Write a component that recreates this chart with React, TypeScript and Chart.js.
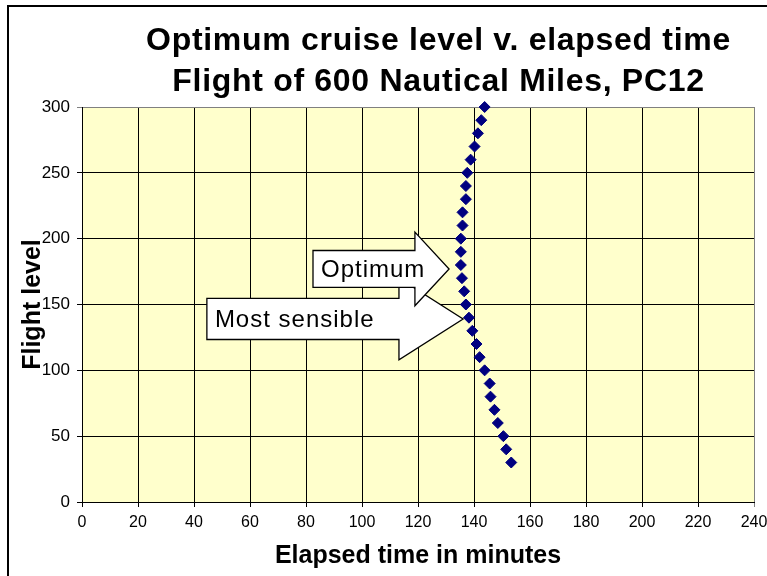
import React, { useEffect, useRef } from 'react';
import { Chart, registerables } from 'chart.js';

Chart.register(...registerables);

// ---- data ----
const flightLevels = [30, 40, 50, 60, 70, 80, 90, 100, 110, 120, 130, 140, 150, 160, 170, 180, 190, 200, 210, 220, 230, 240, 250, 260, 270, 280, 290, 300];
const elapsedMinutes = [153.3, 151.5, 150.5, 148.5, 147.3, 145.9, 145.6, 143.8, 142.0, 140.9, 139.4, 138.2, 137.1, 136.5, 135.7, 135.3, 135.3, 135.3, 135.9, 135.9, 137.1, 137.1, 137.6, 138.8, 140.2, 141.4, 142.6, 143.8];

const xMin = 0;
const xMax = 240;
const xStep = 20;
const yMin = 0;
const yMax = 300;
const yStep = 50;

const titleLines = ['Optimum cruise level v. elapsed time', 'Flight of 600 Nautical Miles, PC12'];
const xAxisTitle = 'Elapsed time in minutes';
const yAxisTitle = 'Flight level';

// block-arrow annotations, in data units (drawn in order: later on top)
const arrowLabels = ['Most sensible', 'Optimum'];
const arrowLevels = [139, 177];
const arrowTailX = [44.6, 82.5];
const arrowHeadX = [113.2, 118.9];
const arrowTipX = [136.1, 131.1];
const arrowBodyHalf = [15.6, 14.0];
const arrowHeadHalf = [31.0, 28.0];

const FONT = "'Liberation Sans', Arial, Helvetica, sans-serif";

const decorPlugin = {
  id: 'decor',
  beforeDraw(chart: any) {
    const { ctx, chartArea } = chart;
    ctx.save();
    ctx.fillStyle = '#ffffff';
    ctx.fillRect(0, 0, chart.width, chart.height);
    ctx.strokeStyle = '#000000';
    ctx.lineWidth = 2;
    ctx.strokeRect(8, 6, 2000, 2000);
    ctx.fillStyle = '#FFFFCC';
    ctx.fillRect(chartArea.left, chartArea.top, chartArea.right - chartArea.left, chartArea.bottom - chartArea.top);
    ctx.restore();
  },
  afterDraw(chart: any) {
    const { ctx } = chart;
    const xs = chart.scales.x;
    const ys = chart.scales.y;
    ctx.save();
    // title
    ctx.fillStyle = '#000000';
    ctx.font = `bold 32px ${FONT}`;
    (ctx as any).letterSpacing = '0.7px';
    ctx.textAlign = 'center';
    ctx.textBaseline = 'alphabetic';
    ctx.fillText(titleLines[0], 438.5, 50);
    ctx.fillText(titleLines[1], 438.5, 91);
    // arrows
    ctx.font = `24px ${FONT}`;
    (ctx as any).letterSpacing = '1px';
    ctx.textAlign = 'left';
    for (let i = 0; i < arrowLabels.length; i++) {
      const cy = ys.getPixelForValue(arrowLevels[i]);
      const tail = xs.getPixelForValue(arrowTailX[i]);
      const head = xs.getPixelForValue(arrowHeadX[i]);
      const tip = xs.getPixelForValue(arrowTipX[i]);
      const bt = ys.getPixelForValue(arrowLevels[i] + arrowBodyHalf[i]);
      const bb = ys.getPixelForValue(arrowLevels[i] - arrowBodyHalf[i]);
      const ht = ys.getPixelForValue(arrowLevels[i] + arrowHeadHalf[i]);
      const hb = ys.getPixelForValue(arrowLevels[i] - arrowHeadHalf[i]);
      ctx.beginPath();
      ctx.moveTo(tail, bt);
      ctx.lineTo(head, bt);
      ctx.lineTo(head, ht);
      ctx.lineTo(tip, cy);
      ctx.lineTo(head, hb);
      ctx.lineTo(head, bb);
      ctx.lineTo(tail, bb);
      ctx.closePath();
      ctx.fillStyle = '#ffffff';
      ctx.fill();
      ctx.strokeStyle = '#000000';
      ctx.lineWidth = 1.3;
      ctx.lineJoin = 'miter';
      ctx.stroke();
      ctx.fillStyle = '#000000';
      ctx.fillText(arrowLabels[i], tail + 8, cy + 8);
    }
    ctx.restore();
  },
};

export default function App() {
  const ref = useRef<HTMLCanvasElement | null>(null);
  useEffect(() => {
    if (!ref.current) return;
    const chart = new Chart(ref.current, {
      type: 'scatter',
      data: {
        datasets: [
          {
            label: 'Flight level',
            data: elapsedMinutes.map((t, i) => ({ x: t, y: flightLevels[i] })),
            pointStyle: 'rectRot',
            pointRadius: 5.5,
            pointHoverRadius: 5.5,
            backgroundColor: '#000080',
            borderColor: '#000080',
            borderWidth: 1,
            showLine: false,
            clip: false,
          } as any,
        ],
      },
      options: {
        animation: false,
        responsive: false,
        devicePixelRatio: 1,
        events: [],
        layout: { padding: { left: 8, right: 0, top: 107, bottom: 0 } },
        plugins: {
          legend: { display: false },
          tooltip: { enabled: false },
          title: { display: false },
        },
        scales: {
          x: {
            type: 'linear',
            min: xMin,
            max: xMax,
            ticks: {
              stepSize: xStep,
              color: '#000000',
              font: { family: FONT, size: 16 },
              padding: 6,
              maxRotation: 0,
              autoSkip: false,
            },
            grid: {
              color: (c: any) => (c.tick && c.tick.value === xMax ? '#808080' : '#000000'),
              lineWidth: 1,
              tickLength: 5,
            },
            border: { color: '#000000', width: 1 },
            title: {
              display: true,
              text: xAxisTitle,
              color: '#000000',
              font: { family: FONT, size: 25, weight: 'bold' },
              padding: { top: 0, bottom: 5 },
            },
            afterFit: (s: any) => {
              s.height = 74;
              s.paddingLeft = 0;
              s.paddingRight = 13;
            },
          },
          y: {
            type: 'linear',
            min: yMin,
            max: yMax,
            ticks: {
              stepSize: yStep,
              color: '#000000',
              font: { family: FONT, size: 17 },
              padding: 7,
            },
            grid: {
              color: (c: any) => (c.tick && c.tick.value === yMax ? '#808080' : '#000000'),
              lineWidth: 1,
              tickLength: 5,
            },
            border: { color: '#000000', width: 1 },
            title: {
              display: true,
              text: yAxisTitle,
              color: '#000000',
              font: { family: FONT, size: 25, weight: 'bold' },
              padding: { top: 10, bottom: 0 },
            },
            afterFit: (s: any) => {
              s.width = 74;
              s.paddingTop = 0;
              s.paddingBottom = 0;
            },
          },
        },
      } as any,
      plugins: [decorPlugin],
    });
    return () => chart.destroy();
  }, []);
  return (
    <div style={{ position: 'fixed', left: 0, top: 0, width: 767, height: 576, overflow: 'hidden', background: '#fff' }}>
      <canvas ref={ref} width={767} height={576} style={{ width: 767, height: 576, display: 'block' }} />
    </div>
  );
}
